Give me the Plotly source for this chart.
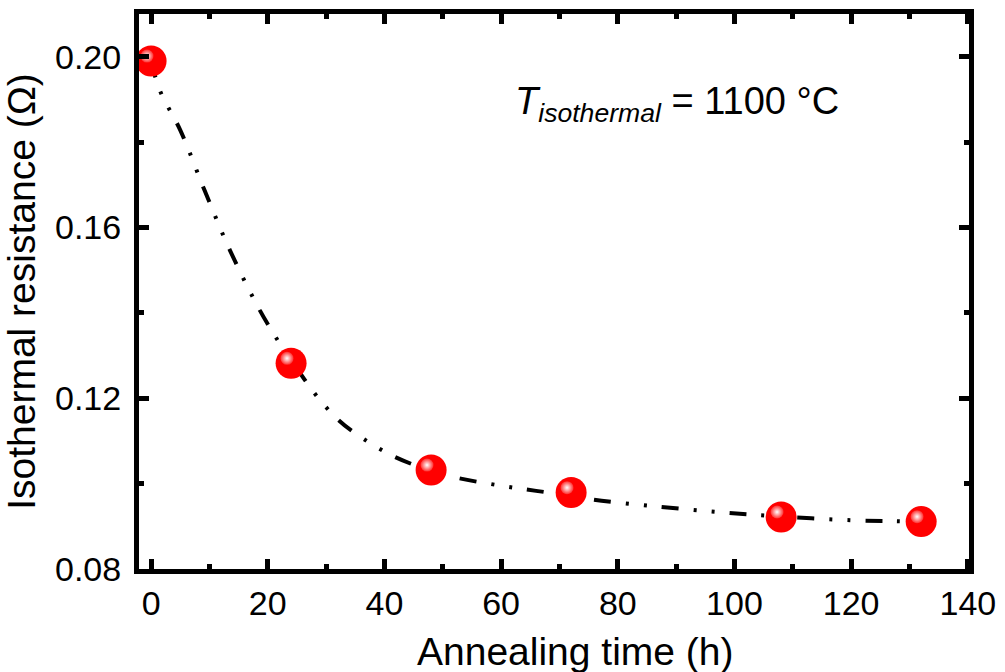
import plotly.graph_objects as go

# measured data
time_h = [0, 24, 48, 72, 108, 132]
resistance = [0.1990, 0.1282, 0.1032, 0.0979, 0.0922, 0.0911]

# fitted curve
fit_t = [0, 1.5, 5, 9.2, 13.5, 18.6, 22.4, 24, 28, 31.8, 35.2, 41.4, 48, 52.3, 60, 66, 72, 75.6, 86.2, 97.6, 108, 120.3, 127.5, 132]
fit_r = [0.1990, 0.1921, 0.1828, 0.1686, 0.1547, 0.1407, 0.1321, 0.1290, 0.1212, 0.1153, 0.1116, 0.1065, 0.1030, 0.1014, 0.0995, 0.0983, 0.0972, 0.0963, 0.0947, 0.0933, 0.0923, 0.0914, 0.0912, 0.0910]

x_ticks = [0, 20, 40, 60, 80, 100, 120, 140]
y_ticks = [0.08, 0.12, 0.16, 0.20]
y_tick_text = ["0.08", "0.12", "0.16", "0.20"]

FONT = "Liberation Sans, Arial, sans-serif"

fig = go.Figure()

fig.add_trace(go.Scatter(
    x=fit_t, y=fit_r, mode="lines", line_shape="spline",
    line=dict(color="black", width=4, dash="17px,15px,3px,15px,3px,15px"),
    hoverinfo="skip", showlegend=False))

fig.add_trace(go.Scatter(
    x=time_h, y=resistance, mode="markers",
    marker=dict(size=31, color="#ff0000", line=dict(width=0)),
    showlegend=False))

# highlight of the spheres (small pixel offset up-left)
dx, dy = -0.7, 0.00115
fig.add_trace(go.Scatter(
    x=[t + dx for t in time_h], y=[r + dy for r in resistance], mode="markers",
    marker=dict(size=13, color="#ff3030", line=dict(width=0),
                gradient=dict(type="radial", color="white")),
    hoverinfo="skip", showlegend=False))

fig.add_annotation(
    x=0.451, y=0.8375, xref="paper", yref="paper", xanchor="left", yanchor="middle",
    text="<i>T</i><sub><i>isothermal</i></sub> = 1100 °C",
    showarrow=False, font=dict(family=FONT, size=38, color="black"))

# x-axis title (placed slightly right of the plot centre, as in the original)
fig.add_annotation(
    x=0.526, y=-0.148, xref="paper", yref="paper", xanchor="center", yanchor="middle",
    text="Annealing time (h)", showarrow=False,
    font=dict(family=FONT, size=39, color="black"))

axis_common = dict(
    showline=True, linecolor="black", linewidth=5, mirror="allticks",
    ticks="inside", ticklen=10, tickwidth=5, tickcolor="black",
    showgrid=False, zeroline=False,
    tickfont=dict(family=FONT, size=34, color="black"),
)

fig.update_xaxes(
    range=[-2.07, 140.2], tickvals=x_ticks,
    minor=dict(ticks="inside", dtick=10, tick0=0, ticklen=5, tickwidth=5, tickcolor="black", showgrid=False),
    **axis_common)
fig.update_yaxes(
    range=[0.08, 0.21], tickvals=y_ticks, ticktext=y_tick_text,
    minor=dict(ticks="inside", dtick=0.02, tick0=0.08, ticklen=5, tickwidth=5, tickcolor="black", showgrid=False),
    title=dict(text="Isothermal resistance (Ω)", font=dict(family=FONT, size=39, color="black"), standoff=10),
    ticklabelstandoff=6,
    **axis_common)

fig.update_layout(
    width=1005, height=672,
    margin=dict(l=139, r=33, t=9, b=103),
    plot_bgcolor="white", paper_bgcolor="white",
)

fig.write_html("out.html")
